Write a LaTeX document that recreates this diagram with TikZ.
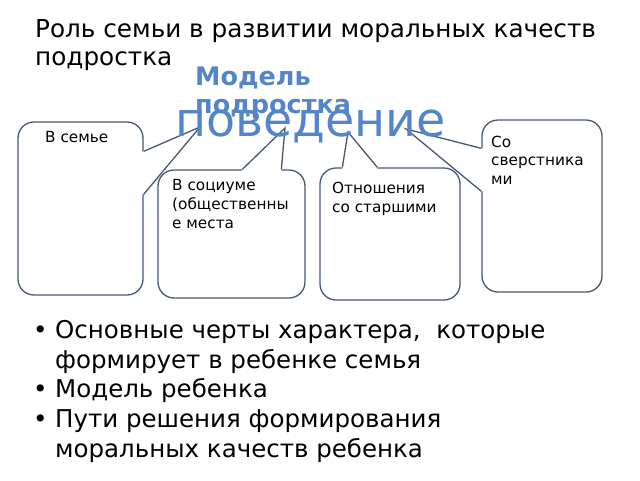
\documentclass[tikz,border=0pt]{standalone}
\usepackage{fontspec}
\setmainfont{DejaVu Sans}
\usetikzlibrary{calc}
\definecolor{edgec}{RGB}{72,88,115}
\definecolor{bluet}{RGB}{84,133,200}
\begin{document}
\begin{tikzpicture}[x=1pt,y=-1pt,
  box/.style={draw=edgec, line width=1.3pt, rounded corners=16pt, fill=white, inner sep=0pt},
  ptr/.style={draw=edgec, line width=1.3pt, line join=miter},
  boxtxt/.style={anchor=base west, inner sep=0pt, font=\fontsize{15.3}{18}\selectfont},
  titletxt/.style={anchor=base west, inner sep=0pt, font=\fontsize{24.7}{28}\selectfont},
  listtxt/.style={anchor=base west, inner sep=0pt, font=\fontsize{24.5}{28}\selectfont},
  modeltxt/.style={anchor=base west, inner sep=0pt, text=bluet, font=\fontsize{25.5}{28}\selectfont\bfseries},
  bigtxt/.style={anchor=base west, inner sep=0pt, text=bluet, font=\fontsize{47.5}{56}\selectfont}]
\useasboundingbox (0,0) rectangle (640,480);

% title
\node[titletxt] (t1) at (35,37) {Роль семьи в развитии моральных качеств};
\node[titletxt] (t2) at (35,65) {подростка};

% boxes
\node[box, minimum width=125pt, minimum height=173pt] (b1) at (80.5,208.5) {};
\node[box, minimum width=147pt, minimum height=128pt] (b2) at (231.5,234) {};
\node[box, minimum width=140pt, minimum height=132pt] (b3) at (390,234) {};
\node[box, minimum width=120pt, minimum height=172pt] (b4) at (542,206) {};

% pointer tips
\coordinate (k1) at (200,127);
\coordinate (k2) at (285,128);
\coordinate (k3) at (348,132);
\coordinate (k4) at (406,129);

% pointer bases
\coordinate (a1) at ($(b1.north east)+(0,30)$);
\coordinate (c1) at ($(b1.north east)+(0,73)$);
\coordinate (a2) at ($(b2.north west)+(85,0)$);
\coordinate (c2) at ($(b2.north west)+(124,0)$);
\coordinate (a3) at ($(b3.north west)+(23,0)$);
\coordinate (c3) at ($(b3.north west)+(58,0)$);
\coordinate (a4) at ($(b4.north west)+(0,29)$);
\coordinate (c4) at ($(b4.north west)+(0,72)$);

% pointers
\fill[white] ($(a1)+(-1.5,0)$) -- (a1) -- (k1) -- (c1) -- ($(c1)+(-1.5,0)$) -- cycle;
\draw[ptr] (a1) -- (k1) -- (c1);
\fill[white] ($(a2)+(0,1.5)$) -- (a2) -- (k2) -- (c2) -- ($(c2)+(0,1.5)$) -- cycle;
\draw[ptr] (a2) -- (k2) -- (c2);
\fill[white] ($(a3)+(0,1.5)$) -- (a3) -- (k3) -- (c3) -- ($(c3)+(0,1.5)$) -- cycle;
\draw[ptr] (a3) -- (k3) -- (c3);
\fill[white] ($(a4)+(1.5,0)$) -- (a4) -- (k4) -- (c4) -- ($(c4)+(1.5,0)$) -- cycle;
\draw[ptr] (a4) -- (k4) -- (c4);

% box texts
\node[boxtxt] (s1) at (45,142) {В семье};
\node[boxtxt] (s2a) at (172,190) {В социуме};
\node[boxtxt] (s2b) at (172,209) {(общественны};
\node[boxtxt] (s2c) at (172,228) {е места};
\node[boxtxt] (s3a) at (332,193) {Отношения};
\node[boxtxt] (s3b) at (332,212) {со старшими};
\node[boxtxt] (s4a) at (491,147) {Со};
\node[boxtxt] (s4b) at (491,165) {сверстника};
\node[boxtxt] (s4c) at (491,184) {ми};

% blue texts
\node[modeltxt] (m1) at (195,85) {Модель};
\node[modeltxt] (m2) at (195,113) {подростка};
\node[bigtxt] (pv) at (175,136) {поведение};

% list
\node[listtxt] (d1) at (33,338) {•};
\node[listtxt] (d2) at (33,397) {•};
\node[listtxt] (d3) at (33,427) {•};
\node[listtxt] (l1) at (55,338) {Основные черты характера,\ \ которые};
\node[listtxt] (l2) at (55,368) {формирует в ребенке семья};
\node[listtxt] (l3) at (55,397) {Модель ребенка};
\node[listtxt] (l4) at (55,427) {Пути решения формирования};
\node[listtxt] (l5) at (55,457) {моральных качеств ребенка};
\end{tikzpicture}
\end{document}
